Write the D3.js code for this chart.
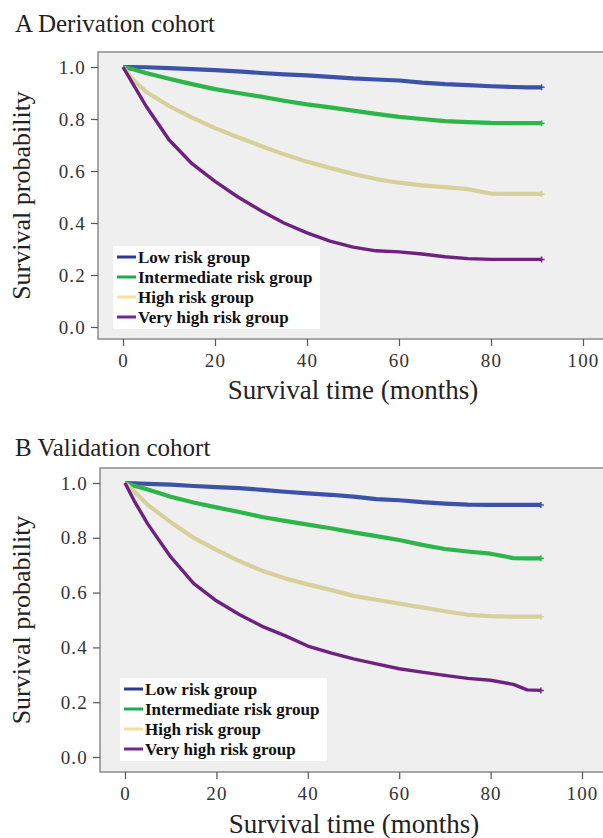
<!DOCTYPE html>
<html>
<head>
<meta charset="utf-8">
<script src="https://cdn.jsdelivr.net/npm/d3@7"></script>
<style>
  body { margin: 0; background: #fff; }
  svg { display: block; }
  .tick text { font-family: "Liberation Serif", serif; font-size: 19px; letter-spacing: 1.2px; fill: #333; }
  .title, .axis-title { font-family: "Liberation Serif", serif; fill: #222; }
  .legend text { font-family: "Liberation Serif", serif; font-weight: bold; font-size: 17px; fill: #111; }
</style>
</head>
<body>
<script>
// group names, colours and the shared time grid (months)
var groups = ["Low risk group", "Intermediate risk group", "High risk group", "Very high risk group"]
var lineColors = ["#3c52a8", "#2cb548", "#d8d09a", "#6e2280"]
var keyColors = ["#2b3a90", "#22a84e", "#f3dfa2", "#6a2a92"]
var times = [0, 2, 5, 10, 15, 20, 25, 30, 35, 40, 45, 50, 55, 60, 65, 70, 75, 80, 85, 88, 91]
var xTicks = [0, 20, 40, 60, 80, 100]
var yTicks = [0, 0.2, 0.4, 0.6, 0.8, 1.0]

// derivation cohort, survival
var derivLow = [1, 1, 0.999, 0.996, 0.992, 0.988, 0.983, 0.977, 0.972, 0.968, 0.962, 0.956, 0.952, 0.948, 0.94, 0.934, 0.93, 0.926, 0.923, 0.922, 0.922]
var derivMid = [1, 0.992, 0.977, 0.955, 0.934, 0.915, 0.9, 0.886, 0.87, 0.856, 0.845, 0.832, 0.82, 0.808, 0.8, 0.792, 0.788, 0.785, 0.784, 0.784, 0.784]
var derivHigh = [1, 0.955, 0.905, 0.85, 0.805, 0.765, 0.73, 0.696, 0.664, 0.636, 0.612, 0.589, 0.569, 0.555, 0.545, 0.538, 0.53, 0.513, 0.512, 0.512, 0.512]
var derivVhigh = [1, 0.94, 0.85, 0.72, 0.628, 0.56, 0.5, 0.447, 0.4, 0.362, 0.33, 0.307, 0.293, 0.289, 0.281, 0.27, 0.263, 0.26, 0.26, 0.26, 0.26]

// validation cohort
var validLow = [1, 0.999, 0.997, 0.994, 0.989, 0.985, 0.981, 0.975, 0.968, 0.962, 0.957, 0.95, 0.941, 0.937, 0.93, 0.925, 0.921, 0.92, 0.92, 0.92, 0.92]
var validMid = [1, 0.99, 0.976, 0.95, 0.929, 0.911, 0.894, 0.876, 0.862, 0.848, 0.835, 0.82, 0.806, 0.792, 0.774, 0.759, 0.75, 0.742, 0.726, 0.725, 0.725]
var validHigh = [1, 0.97, 0.92, 0.857, 0.8, 0.756, 0.715, 0.68, 0.652, 0.63, 0.61, 0.588, 0.574, 0.56, 0.546, 0.532, 0.519, 0.514, 0.512, 0.512, 0.512]
var validVhigh = [1, 0.935, 0.85, 0.73, 0.634, 0.57, 0.52, 0.477, 0.443, 0.405, 0.38, 0.358, 0.34, 0.322, 0.31, 0.298, 0.287, 0.28, 0.265, 0.245, 0.243]

var svg = d3.select("body").append("svg")
  .attr("width", 603)
  .attr("height", 838)

// each panel gets its own box, scales and legend spot
drawPanel({
  title: "A  Derivation cohort", titleY: 32,
  left: 98, top: 52, bottom: 339, right: 604,
  x0: 123, x100: 583, y1: 67, y0: 327,
  legX: 113, legY: 246, xLabelY: 399
}, [derivLow, derivMid, derivHigh, derivVhigh])

drawPanel({
  title: "B  Validation cohort", titleY: 456,
  left: 100, top: 468, bottom: 772, right: 604,
  x0: 125, x100: 582, y1: 483, y0: 757,
  legX: 120, legY: 678, xLabelY: 833
}, [validLow, validMid, validHigh, validVhigh])

function drawPanel(p, series) {
  var x = d3.scaleLinear().domain([0, 100]).range([p.x0, p.x100])
  var y = d3.scaleLinear().domain([0, 1]).range([p.y0, p.y1])

  svg.append("text")
    .attr("class", "title")
    .attr("x", 15).attr("y", p.titleY)
    .style("font-size", "25px")
    .text(p.title)

  // grey plotting area with its frame
  svg.append("rect")
    .attr("x", p.left).attr("y", p.top)
    .attr("width", p.right - p.left).attr("height", p.bottom - p.top)
    .attr("fill", "#efefef")
    .attr("stroke", "#8c8c8c")
    .attr("stroke-width", 1.5)

  var yAxis = d3.axisLeft(y).tickValues(yTicks).tickFormat(d3.format(".1f")).tickSize(7).tickPadding(5)
  var gy = svg.append("g")
    .attr("transform", "translate(" + p.left + ",0)")
    .call(yAxis)
  gy.select(".domain").remove()
  gy.selectAll(".tick line").attr("stroke", "#555").attr("stroke-width", 1.2)

  var xAxis = d3.axisBottom(x).tickValues(xTicks).tickSize(7).tickPadding(8)
  var gx = svg.append("g")
    .attr("transform", "translate(0," + p.bottom + ")")
    .call(xAxis)
  gx.select(".domain").remove()
  gx.selectAll(".tick line").attr("stroke", "#555").attr("stroke-width", 1.2)

  // axis titles
  svg.append("text")
    .attr("class", "axis-title")
    .attr("text-anchor", "middle")
    .attr("transform", "translate(30," + ((p.top + p.bottom) / 2) + ") rotate(-90)")
    .style("font-size", "26px")
    .text("Survival probability")

  svg.append("text")
    .attr("class", "axis-title")
    .attr("text-anchor", "middle")
    .attr("x", (p.left + p.right) / 2 + 2).attr("y", p.xLabelY)
    .style("font-size", "27px")
    .text("Survival time (months)")

  var line = d3.line()
    .x(function(d, i) { return x(times[i]) })
    .y(function(d) { return y(d) })

  var widths = [4.2, 4.2, 4.2, 3.4]
  series.forEach(function(s, k) {
    svg.append("path")
      .datum(s)
      .attr("d", line)
      .attr("fill", "none")
      .attr("stroke", lineColors[k])
      .attr("stroke-width", widths[k])
      .attr("stroke-linejoin", "round")

    // censor mark at the end of each curve
    var last = times.length - 1
    svg.append("path")
      .attr("d", "M" + (x(times[last]) - 3) + "," + y(s[last]) + "h6M" + x(times[last]) + "," + (y(s[last]) - 3) + "v6")
      .attr("stroke", lineColors[k])
      .attr("stroke-width", 1.5)
  })

  // legend
  var leg = svg.append("g").attr("class", "legend")
    .attr("transform", "translate(" + p.legX + "," + p.legY + ")")
  leg.append("rect")
    .attr("width", 207).attr("height", 83)
    .attr("fill", "#fff")
  groups.forEach(function(g, k) {
    var cy = 11 + k * 20
    leg.append("line")
      .attr("x1", 4).attr("x2", 23)
      .attr("y1", cy).attr("y2", cy)
      .attr("stroke", keyColors[k])
      .attr("stroke-width", 3)
    leg.append("text")
      .attr("x", 25).attr("y", cy + 5.5)
      .text(g)
  })
}
</script>
</body>
</html>
